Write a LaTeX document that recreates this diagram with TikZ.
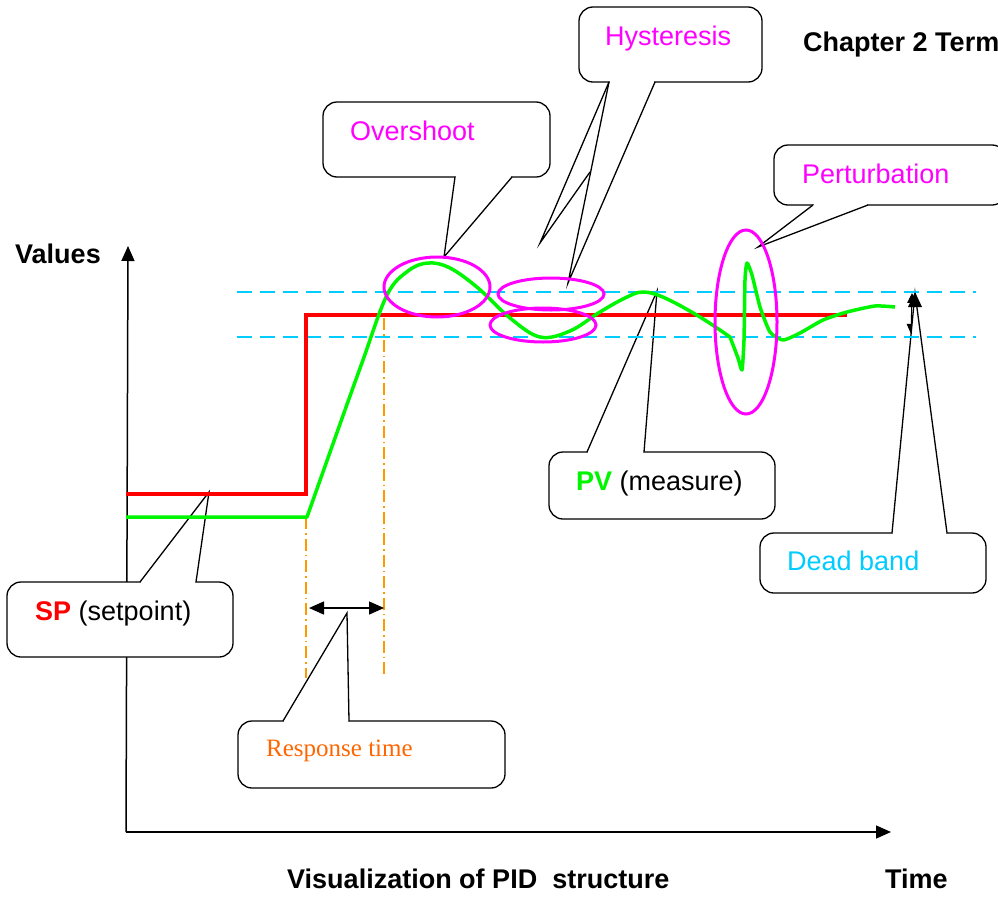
\documentclass[tikz,border=0pt]{standalone}
\usepackage{fontspec}
\setmainfont{Liberation Sans}
\newfontfamily\timesfont{Liberation Serif}
\usetikzlibrary{arrows.meta,calc}
\definecolor{spred}{RGB}{255,0,0}
\definecolor{pvgreen}{RGB}{0,245,0}
\definecolor{hmag}{RGB}{255,0,255}
\definecolor{dbcyan}{RGB}{0,204,255}
\definecolor{rtorange}{RGB}{255,153,0}
\definecolor{rttext}{RGB}{255,102,0}
\newcommand\mycallout[5]{%
  \draw[cbox] #1 rectangle #2;
  \fill[white] #3 -- #4 -- #5 -- cycle;
  \fill[white] ($#3+(0.8,-2.5)$) rectangle ($#5+(-0.8,2.5)$);
  \draw[cline] #3 -- #4 -- #5;
}
\begin{document}
\begin{tikzpicture}[x=1pt,y=-1pt,
  lab/.style={font=\fontsize{27}{32}\selectfont, inner sep=0pt, anchor=base west},
  blab/.style={lab, font=\fontsize{27}{32}\selectfont\bfseries},
  axis/.style={line width=1.5pt, -{Triangle[length=15pt,width=13pt]}},
  band/.style={dbcyan, line width=1.5pt, dash pattern=on 15pt off 8pt},
  rtline/.style={rtorange, line width=1.3pt, dash pattern=on 12pt off 4pt on 1.5pt off 4pt},
  sp/.style={spred, line width=3.5pt, line join=miter},
  pv/.style={pvgreen, line width=3.5pt, line join=round},
  ring/.style={hmag, line width=3pt},
  cbox/.style={draw=black, fill=white, line width=1.3pt, rounded corners=14pt},
  cline/.style={black, line width=1.3pt, line join=miter},
  dbl/.style={line width=1.5pt, {Triangle[length=15pt,width=13pt]}-{Triangle[length=15pt,width=13pt]}}
]
\useasboundingbox (0,0) rectangle (998,897);

% axes
\coordinate (o) at (126,832);
\coordinate (ytop) at (128,246);
\coordinate (xend) at (891,832);
\draw[axis] (o) -- (ytop);
\draw[axis] (o) -- (xend);

% response time guide lines
\coordinate (rta) at (306,517);
\coordinate (rtb) at (306,678);
\coordinate (rtc) at (384,318);
\coordinate (rtd) at (384,675);
\draw[rtline] (rta) -- (rtb);
\draw[rtline] (rtc) -- (rtd);
\coordinate (rt1) at (309,608);
\coordinate (rt2) at (384,608);
\draw[dbl] (rt1) -- (rt2);

% dead band arrow
\coordinate (db1) at (912,293);
\coordinate (db2) at (911,334);
\draw[line width=1pt, {Triangle[length=10pt,width=9pt]}-{Triangle[length=10pt,width=9pt]}] (db1) -- (db2);

% callouts
\mycallout{(323,102)}{(550,177)}{(455,177)}{(444,257)}{(512,177)}
\draw[cbox] (579,7) rectangle (762,82);
\fill[white] (609,82) -- (568,283) -- (655,82) -- cycle;
\fill[white] (609.8,79.5) rectangle (654.2,84.5);
\draw[cline] (609,82) -- (540,243) -- (590,172);
\draw[cline] (609,82) -- (568,283) -- (655,82);
\mycallout{(774,145)}{(1006,205)}{(813,205)}{(758,247)}{(868,205)}
\mycallout{(549,452)}{(775,519)}{(587,452)}{(657,291)}{(644,452)}
\mycallout{(760,533)}{(986,593)}{(892,533)}{(915,293)}{(947,533)}
\mycallout{(7,582)}{(233,657)}{(140,582)}{(209,492)}{(196,582)}
\mycallout{(238,721)}{(505,788)}{(283,721)}{(347,613)}{(349,721)}

% dead band limits
\coordinate (bu1) at (237,292);
\coordinate (bu2) at (976,292);
\coordinate (bl1) at (237,337);
\coordinate (bl2) at (976,337);
\draw[band] (bu1) -- (bu2);
\draw[band] (bl1) -- (bl2);

% SP
\draw[sp] (126,494) -- (306,494) -- (306,315) -- (847,315);

% PV
\draw[pv] (126,517) -- (307,517) -- (345,410);
\draw[pv] plot[smooth, tension=0.6] coordinates {(345,410) (363,360) (387,295) (408,271) (428,263) (450,268) (478,288) (510,318) (540,337) (570,331) (600,312) (625,298) (643,292) (665,298) (700,317) (730,337)};
\draw[pv] plot[smooth, tension=0.35] coordinates {(730,337) (738,358) (742,370) (744,340) (745,280) (747,263) (752,275) (760,307) (770,332) (783,340) (800,333) (823,320) (847,312) (875,306) (895,307)};

% rings
\draw[ring] (437,287) ellipse [x radius=53, y radius=30];
\draw[ring] (551,294) ellipse [x radius=53, y radius=16];
\draw[ring] (543,325) ellipse [x radius=53, y radius=17];
\draw[ring] (746,322) ellipse [x radius=31, y radius=92];

% top arrowhead of dead band
\fill (915,292) -- (908,307) -- (922,307) -- cycle;

% texts
\node[lab, text=hmag] (tover) at (350,140) {Overshoot};
\node[lab, text=hmag] (thyst) at (605,45) {Hysteresis};
\node[lab, text=hmag] (tpert) at (802,183) {Perturbation};
\node[lab] (tpv) at (576,490) {\textbf{\textcolor{pvgreen}{PV}} (measure)};
\node[lab, text=dbcyan] (tdb) at (787,570) {Dead band};
\node[lab] (tsp) at (35,620) {\textbf{\textcolor{spred}{SP}} (setpoint)};
\node[lab, font=\timesfont\fontsize{25}{30}\selectfont, text=rttext] (trt) at (266,756) {Response time};
\node[blab] (tval) at (15,263) {Values};
\node[blab] (tch) at (803,51) {Chapter 2 Term};
\node[blab] (tvis) at (287,888) {Visualization of PID~ structure};
\node[blab] (ttime) at (885,888) {Time};
\end{tikzpicture}
\end{document}
